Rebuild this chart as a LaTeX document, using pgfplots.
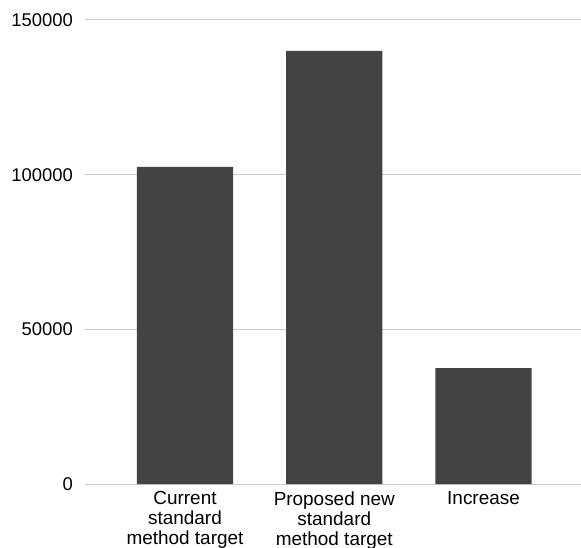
\documentclass[border=0pt]{standalone}
\usepackage{fontspec}
\setmainfont{Liberation Sans}
\usepackage{pgfplots}
\pgfplotsset{compat=1.18}

\definecolor{barfill}{HTML}{434343}
\definecolor{gridgray}{HTML}{CCCCCC}
\definecolor{baseline}{HTML}{333333}

\begin{document}
\begin{tikzpicture}
\useasboundingbox (-85bp,-64bp) rectangle (496bp,484bp);
\begin{axis}[
  at={(0,0)}, anchor=south west,
  scale only axis,
  width=496bp, height=464bp,
  xmin=-0.67, xmax=2.653,
  ymin=0, ymax=150000,
  ytick={0,50000,100000,150000},
  yticklabel style={font=\fontsize{18.5}{20}\selectfont, anchor=east, inner sep=0pt, xshift=-12bp},
  /pgf/number format/assume math mode=true,
  scaled y ticks=false,
  yticklabel={\pgfmathprintnumber[fixed,precision=0,1000 sep={}]{\tick}},
  xtick={0,1,2},
  xticklabels={{Current\\standard\\method target},{Proposed new\\standard\\method target},{Increase}},
  xticklabel style={font=\fontsize{19}{20}\selectfont, align=center, anchor=north, inner sep=0pt, yshift=-7.5bp},
  major tick length=0pt,
  axis line style={draw=none},
  ymajorgrids,
  major grid style={gridgray, line width=1bp},
  extra y ticks={0},
  extra y tick labels={},
  extra y tick style={grid style={baseline, line width=1bp}},
  clip=false,
]
\addplot[ybar, bar width=0.645, fill=barfill, draw=none]
  coordinates {(0,102500) (1,140000) (2,37500)};
\end{axis}
\end{tikzpicture}
\end{document}
